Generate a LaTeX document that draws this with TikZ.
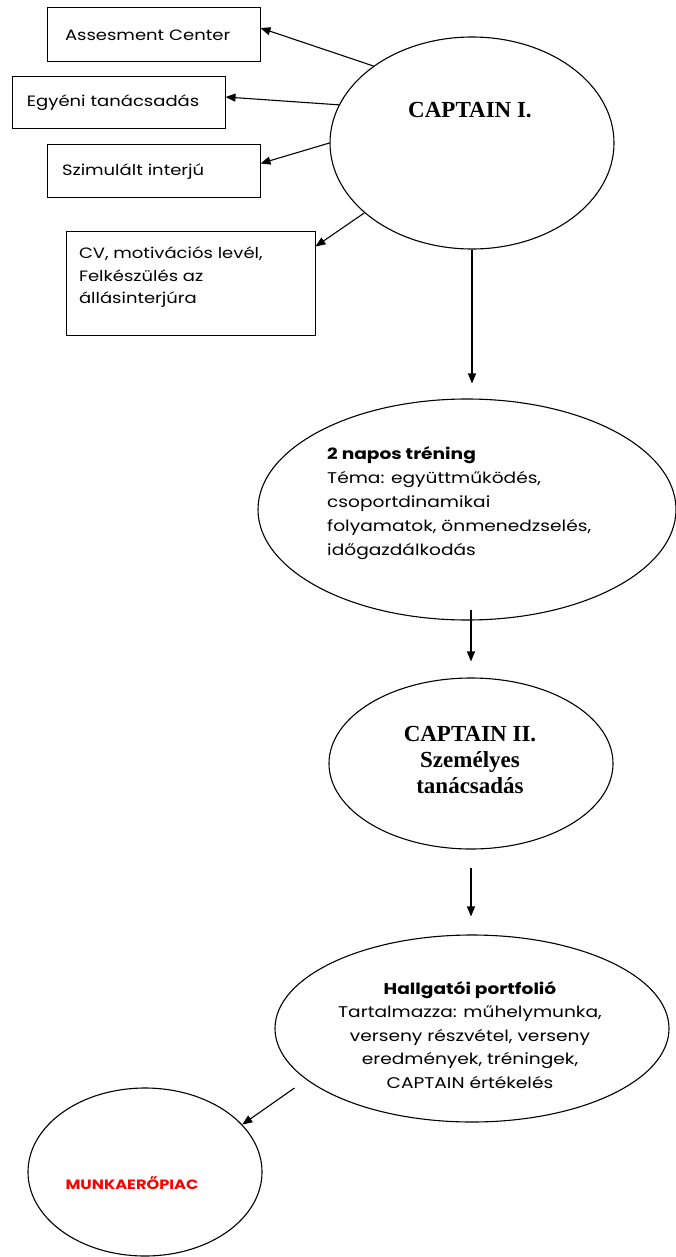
\documentclass[tikz,border=0pt]{standalone}
\usepackage{fontspec}
\setmainfont{Liberation Serif}
\newfontfamily\gothic[FakeStretch=1.2]{Poppins}
\usetikzlibrary{shapes.geometric,arrows.meta}
\begin{document}
\begin{tikzpicture}[x=1pt,y=-1pt,
  box/.style={draw, line width=1pt, rectangle, inner sep=0pt, align=left,
    font=\gothic\fontsize{15}{22.5}\selectfont},
  oval/.style={draw, line width=1.1pt, ellipse, inner sep=0pt},
  arr/.style={-{Triangle[length=10pt,width=8pt]}, line width=1.1pt},
  lbl/.style={inner sep=0pt, font=\gothic\fontsize{15.5}{24}\selectfont},
  ser/.style={inner sep=0pt, align=center, font=\bfseries\fontsize{23}{26}\selectfont}]
\path[use as bounding box] (0,0) rectangle (675,1257);

% boxes
\node[box, minimum width=213, minimum height=54, text width=177] (b1) at (153.5,35) {Assesment Center};
\node[box, minimum width=213, minimum height=52, text width=183] (b2) at (118.5,103) {Egyéni tanácsadás};
\node[box, minimum width=213, minimum height=53, text width=183] (b3) at (153.5,171.5) {Szimulált interjú};
\node[box, minimum width=249, minimum height=103] (b4) at (190.5,283.5)
  {\parbox[c][103pt][t]{223pt}{\vspace*{15pt}CV, motivációs levél,\\Felkészülés az\\állásinterjúra}};

% ovals
\node[oval, minimum width=284, minimum height=212] (c1) at (472,143) {};
\node[ser] (c1t) at (470,110) {CAPTAIN I.};

\node[oval, minimum width=418, minimum height=221] (e2) at (467,509.5) {};
\node[lbl, align=left, anchor=north west] (e2t) at (327,446)
  {\textbf{2 napos tréning}\\Téma: együttműködés,\\csoportdinamikai\\folyamatok, önmenedzselés,\\időgazdálkodás};

\node[oval, minimum width=284, minimum height=171] (e3) at (471,763.5) {};
\node[ser] (e3t) at (470,760) {CAPTAIN II.\\Személyes\\tanácsadás};

\node[oval, minimum width=394, minimum height=187] (e4) at (472,1028.5) {};
\node[lbl, align=center, font=\gothic\fontsize{15.5}{23.5}\selectfont] (e4t) at (470,1035)
  {\textbf{Hallgatói portfolió}\\Tartalmazza: műhelymunka,\\verseny részvétel, verseny\\eredmények, tréningek,\\CAPTAIN értékelés};

\node[oval, minimum width=234, minimum height=168] (c5) at (145,1172) {};
\node[inner sep=0pt, text=red, font=\gothic\bfseries\fontsize{13.5}{16}\selectfont] (c5t) at (132,1183) {MUNKAERŐPIAC};

% connectors
\draw[arr] (c1.142.2) -- ([yshift=7pt]b1.east);
\draw[arr] (c1.164.5) -- ([yshift=6pt]b2.east);
\draw[arr] (c1.180.8) -- ([yshift=8pt]b3.east);
\draw[arr] (c1.213.9) -- ([yshift=-15pt]b4.north east);
\draw[arr, shorten >=15pt] (c1.south) -- (c1.south |- e2.north);
\draw[arr, shorten <=-11pt, shorten >=16pt] (e3.north |- e2.south) -- (e3.north);
\draw[arr, shorten <=18pt, shorten >=18pt] (e3.south) -- (e3.south |- e4.north);
\draw[arr] ([shift={(20,59.5)}]e4.west) -- (c5.26.6);
\end{tikzpicture}
\end{document}
